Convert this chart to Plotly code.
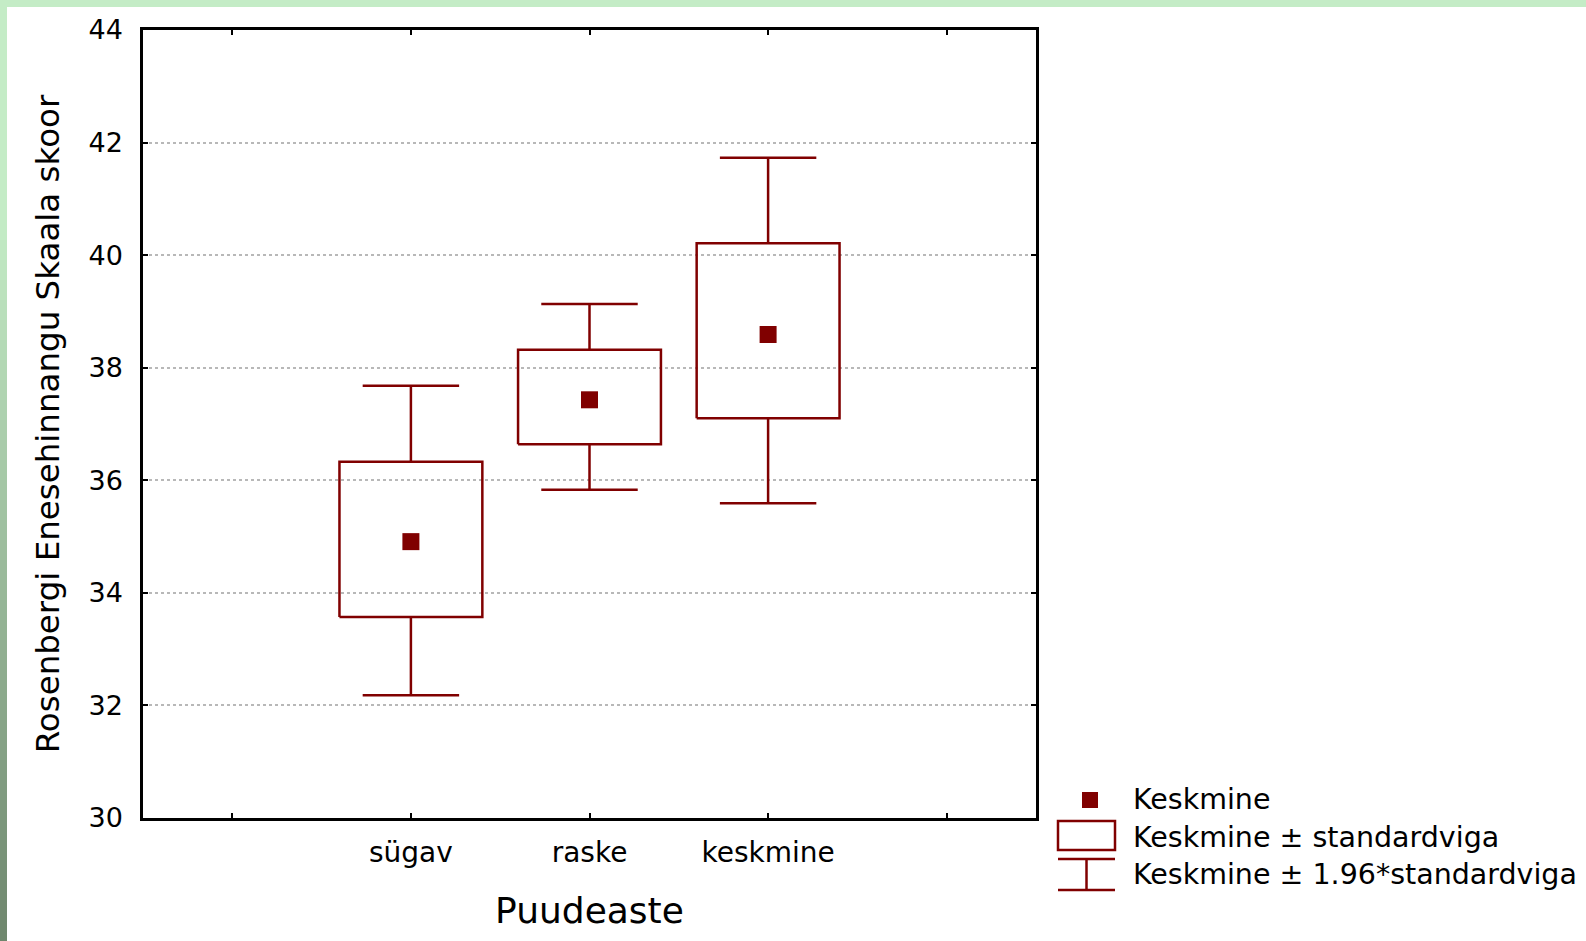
import plotly.graph_objects as go

# ---- data ----
categories = ["sügav", "raske", "keskmine"]
cat_pos = [1, 2, 3]
mean_vals = [34.91, 37.43, 38.59]
se_low = [33.57, 36.64, 37.10]
se_high = [36.33, 38.32, 40.21]
ci_low = [32.18, 35.83, 35.59]
ci_high = [37.68, 39.13, 41.73]
y_ticks = [30, 32, 34, 36, 38, 40, 42, 44]

legend_labels = ["Keskmine", "Keskmine \u00b1 standardviga", "Keskmine \u00b1 1.96*standardviga"]

# ---- style ----
RED = "#800000"
FONT = "DejaVu Sans"
W_FIG, H_FIG = 1586, 941
L, R, T, B = 143, 1036, 30, 818
PW, PH = R - L, B - T
BOX_HALF = 0.40
CAP_HALF = 0.27


def px(x):
    return (x - L) / PW


def py(y):
    return (B - y) / PH


fig = go.Figure()

# boxes (mean ± SE)
bx, by = [], []
for c, lo, hi in zip(cat_pos, se_low, se_high):
    bx += [c - BOX_HALF, c + BOX_HALF, c + BOX_HALF, c - BOX_HALF, c - BOX_HALF, None]
    by += [lo, lo, hi, hi, lo, None]
fig.add_trace(go.Scatter(x=bx, y=by, mode="lines", line=dict(color=RED, width=2.5),
                         showlegend=False, hoverinfo="skip"))

# whiskers (mean ± 1.96*SE)
wx, wy = [], []
for c, lo, hi, blo, bhi in zip(cat_pos, ci_low, ci_high, se_low, se_high):
    wx += [c, c, None, c - CAP_HALF, c + CAP_HALF, None,
           c, c, None, c - CAP_HALF, c + CAP_HALF, None]
    wy += [bhi, hi, None, hi, hi, None,
           blo, lo, None, lo, lo, None]
fig.add_trace(go.Scatter(x=wx, y=wy, mode="lines", line=dict(color=RED, width=2.5),
                         showlegend=False, hoverinfo="skip"))

# means
fig.add_trace(go.Scatter(x=cat_pos, y=mean_vals, mode="markers",
                         marker=dict(symbol="square", size=17, color=RED, line=dict(width=0)),
                         showlegend=False))

shapes = []
annotations = []

# green decorative frame (top strip + left gradient strip)
shapes.append(dict(type="rect", xref="paper", yref="paper",
                   x0=px(0), x1=px(W_FIG), y0=py(7), y1=py(0),
                   fillcolor="#c4ecc6", line=dict(width=0), layer="below"))
c_top = (0xc4, 0xec, 0xc6)
c_bot = (0x6e, 0x86, 0x6d)
step = 20
for y0 in range(0, H_FIG, step):
    y1 = min(y0 + step, H_FIG)
    ym = (y0 + y1) / 2
    t = 0 if ym < 220 else (ym - 220) / (H_FIG - 220)
    col = tuple(int(round(a + (b - a) * t)) for a, b in zip(c_top, c_bot))
    shapes.append(dict(type="rect", xref="paper", yref="paper",
                       x0=px(0), x1=px(7), y0=py(y1), y1=py(y0),
                       fillcolor="rgb(%d,%d,%d)" % col, line=dict(width=0), layer="below"))

# manual legend
shapes.append(dict(type="rect", xref="paper", yref="paper",
                   x0=px(1082), x1=px(1098), y0=py(808), y1=py(792),
                   fillcolor=RED, line=dict(width=0)))
shapes.append(dict(type="rect", xref="paper", yref="paper",
                   x0=px(1058), x1=px(1115), y0=py(850), y1=py(821),
                   fillcolor="white", line=dict(color=RED, width=2.5)))
for (x0, y0, x1, y1) in [(1058, 859, 1115, 859), (1058, 890, 1115, 890), (1086.5, 859, 1086.5, 890)]:
    shapes.append(dict(type="line", xref="paper", yref="paper",
                       x0=px(x0), x1=px(x1), y0=py(y0), y1=py(y1),
                       line=dict(color=RED, width=2.5)))
for lab, yc in zip(legend_labels, [799, 837, 874]):
    annotations.append(dict(xref="paper", yref="paper", x=px(1131), y=py(yc),
                            xanchor="left", yanchor="middle", showarrow=False,
                            text=lab, font=dict(family=FONT, size=28.5, color="black")))

fig.update_layout(
    width=W_FIG, height=H_FIG,
    margin=dict(l=L, r=W_FIG - R, t=T, b=H_FIG - B, pad=0),
    paper_bgcolor="white", plot_bgcolor="white",
    font=dict(family=FONT, color="black"),
    shapes=shapes, annotations=annotations,
    showlegend=False,
)

fig.update_xaxes(
    range=[-0.5, 4.5],
    tickmode="array", tickvals=[0] + cat_pos + [4], ticktext=[""] + categories + [""],
    ticks="inside", ticklen=5, tickwidth=2, tickcolor="black",
    showline=True, linecolor="black", linewidth=2.5, mirror="ticks",
    showgrid=False, zeroline=False,
    tickfont=dict(family=FONT, size=28),
    ticklabelstandoff=8,
    title=dict(text="Puudeaste", font=dict(family=FONT, size=36), standoff=30),
)
fig.update_yaxes(
    range=[30, 44],
    tickmode="array", tickvals=y_ticks, ticktext=[str(v) for v in y_ticks],
    ticks="inside", ticklen=5, tickwidth=2, tickcolor="black",
    showline=True, linecolor="black", linewidth=2.5, mirror="ticks",
    showgrid=True, gridcolor="#b8b8b8", gridwidth=1.5, griddash="dot",
    zeroline=False,
    tickfont=dict(family=FONT, size=27),
    ticklabelstandoff=12,
    title=dict(text="Rosenbergi Enesehinnangu Skaala skoor", font=dict(family=FONT, size=32.5), standoff=20),
)

fig.write_html("out.html", config={"displayModeBar": False},
               post_script="document.body.style.margin='0';document.body.style.padding='0';")
